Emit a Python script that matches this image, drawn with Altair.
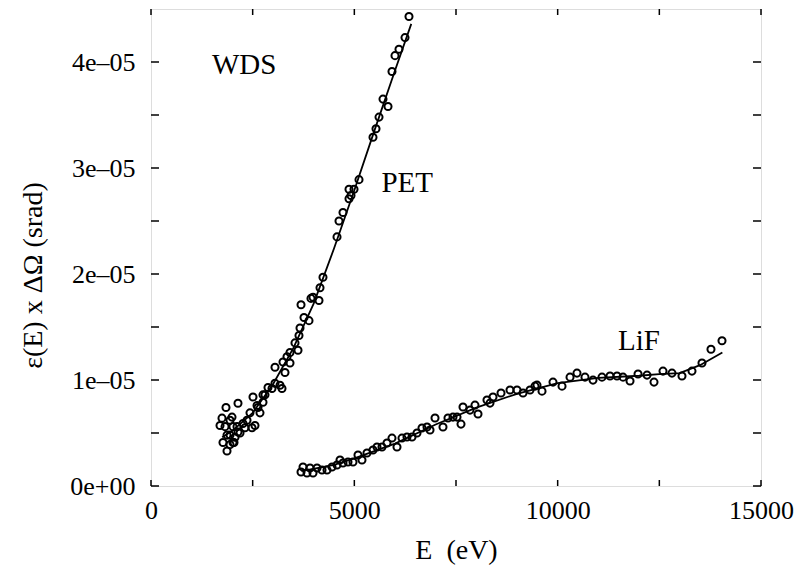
import altair as alt
import pandas as pd

# ---------------- data ----------------
pet_e = [6344, 6246, 6098, 6000, 5926, 5705, 5828, 5607, 5533, 5459, 5115, 4992, 4869, 4918,
         4869, 4721, 4623, 4574, 4229, 4156, 4131, 3984, 3934, 3689, 3762, 3885, 3664, 3639,
         3541, 3615, 3418, 3344, 3246, 3049, 3418, 3295, 3172, 3221, 3049, 2975, 2877, 2803,
         2754, 2508, 2631, 2434, 2361, 2557, 2139, 1844, 1746, 1697, 1943, 2115, 2189, 2066,
         1869, 1770, 1943, 2041, 1869, 2311, 2754, 2607, 2680, 2262, 2484, 1992, 1820, 2016,
         2139, 1943, 2016]
pet_y = [4.43, 4.23, 4.12, 4.06, 3.91, 3.65, 3.58, 3.48, 3.37, 3.29, 2.89, 2.80, 2.80, 2.74,
         2.71, 2.58, 2.50, 2.35, 1.97, 1.87, 1.75, 1.78, 1.77, 1.71, 1.59, 1.56, 1.49, 1.42,
         1.35, 1.28, 1.26, 1.22, 1.17, 1.12, 1.16, 1.07, 0.95, 0.92, 0.97, 0.92, 0.93, 0.86,
         0.79, 0.84, 0.74, 0.69, 0.62, 0.57, 0.78, 0.74, 0.64, 0.57, 0.62, 0.56, 0.50, 0.46,
         0.48, 0.41, 0.39, 0.41, 0.33, 0.55, 0.86, 0.76, 0.69, 0.59, 0.55, 0.65, 0.56, 0.56,
         0.51, 0.48, 0.41]

pet_fit_e = [1750, 2000, 2500, 3000, 3500, 4000, 4500, 5000, 5500, 6000, 6400]
pet_fit_y = [0.46, 0.52, 0.69, 0.96, 1.30, 1.72, 2.24, 2.79, 3.36, 3.92, 4.36]

lif_e = [3689, 3738, 3836, 3910, 3984, 4082, 4205, 4328, 4451, 4574, 4648, 4721, 4844, 4967,
         5090, 5188, 5311, 5459, 5557, 5680, 5803, 5926, 6049, 6172, 6295, 6418, 6541, 6664,
         6787, 6861, 6984, 7180, 7303, 7426, 7525, 7623, 7672, 7844, 7967, 8041, 8262, 8336,
         8410, 8607, 8828, 9000, 9148, 9320, 9492, 9443, 9615, 9885, 10107, 10304, 10475,
         10672, 10869, 11090, 11287, 11459, 11607, 11779, 11976, 12197, 12369, 12590, 12811,
         13057, 13303, 13549, 13770, 14041]
lif_y = [0.132, 0.179, 0.123, 0.170, 0.123, 0.170, 0.151, 0.151, 0.179, 0.198, 0.245, 0.217,
         0.226, 0.226, 0.292, 0.245, 0.311, 0.339, 0.368, 0.368, 0.405, 0.452, 0.368, 0.452,
         0.462, 0.462, 0.500, 0.547, 0.556, 0.528, 0.641, 0.556, 0.641, 0.650, 0.650, 0.584,
         0.745, 0.716, 0.763, 0.679, 0.811, 0.782, 0.839, 0.877, 0.905, 0.905, 0.877, 0.905,
         0.952, 0.942, 0.895, 0.980, 0.942, 1.027, 1.065, 1.027, 0.999, 1.027, 1.037, 1.037,
         1.027, 0.990, 1.056, 1.046, 0.980, 1.084, 1.065, 1.037, 1.084, 1.160, 1.290, 1.370]

lif_fit_e = [3700, 4500, 5000, 6000, 7000, 8000, 9000, 10000, 11000, 12000, 12500, 13000,
             13500, 14050]
lif_fit_y = [0.14, 0.20, 0.26, 0.40, 0.58, 0.74, 0.87, 0.97, 1.02, 1.04, 1.056, 1.065,
             1.14, 1.26]

scale_y = 1e-5

x_tick_values = [0, 2500, 5000, 7500, 10000, 12500, 15000]
y_tick_values = [0, 0.5, 1.0, 1.5, 2.0, 2.5, 3.0, 3.5, 4.0]
x_label_values = [0, 5000, 10000, 15000]
y_label_values = [0, 1, 2, 3, 4]

note_text = ["WDS", "PET", "LiF"]
note_e = [2290, 6300, 12000]
note_y = [3.97, 2.86, 1.37]

# ---------------- tables ----------------
pet = pd.DataFrame({"E": pet_e, "V": [v * scale_y for v in pet_y]})
lif = pd.DataFrame({"E": lif_e, "V": [v * scale_y for v in lif_y]})
pts = pd.concat([pet.assign(s="PET"), lif.assign(s="LiF")])
pet_fit = pd.DataFrame({"E": pet_fit_e, "V": [v * scale_y for v in pet_fit_y]}).assign(s="PET")
lif_fit = pd.DataFrame({"E": lif_fit_e, "V": [v * scale_y for v in lif_fit_y]}).assign(s="LiF")
fits = pd.concat([pet_fit, lif_fit])
notes = pd.DataFrame({"t": note_text, "E": note_e, "V": [v * scale_y for v in note_y]})
xt = pd.DataFrame({"E": x_tick_values})
yt = pd.DataFrame({"V": [v * scale_y for v in y_tick_values]})

W, H = 610, 477
FONT = "Liberation Serif"

xscale = alt.Scale(domain=[0, 15000], nice=False, zero=False)
yscale = alt.Scale(domain=[0, 4.5e-5], nice=False, zero=False)

xaxis = alt.Axis(values=x_label_values, format="d", title="E\u00a0 (eV)", ticks=False,
                 domain=False, grid=False,
                 labelFont=FONT, labelFontSize=26, labelColor="black", labelPadding=11,
                 labelFlush=False, labelOverlap=False,
                 titleFont=FONT, titleFontSize=28, titleFontWeight="normal", titleColor="black",
                 titleY=72, titleBaseline="alphabetic")
yaxis = alt.Axis(values=[v * scale_y for v in y_label_values], title="ε(E) x ΔΩ (srad)",
                 ticks=False, domain=False, grid=False,
                 labelExpr="datum.value == 0 ? '0e+00' : format(datum.value * 100000, '.0f') + 'e–05'",
                 labelFont=FONT, labelFontSize=26, labelColor="black", labelPadding=16,
                 labelFlush=False, labelOverlap=False,
                 titleFont=FONT, titleFontSize=28, titleFontWeight="normal", titleColor="black",
                 titleAngle=270, titleX=-110, titleY=266, titleBaseline="alphabetic",
                 titleAlign="center")

X = alt.X("E:Q", scale=xscale, axis=xaxis)
Y = alt.Y("V:Q", scale=yscale, axis=yaxis)

points = alt.Chart(pts).mark_point(shape="circle", filled=False, size=50, stroke="black",
                                   strokeWidth=2, opacity=1).encode(x=X, y=Y)
lines = alt.Chart(fits).mark_line(color="black", strokeWidth=1.8).encode(
    x=X, y=Y, detail="s:N")
texts = alt.Chart(notes).mark_text(font=FONT, fontSize=29, color="black").encode(
    x=X, y=Y, text="t:N")

xt_bottom = alt.Chart(xt).mark_rule(color="black", strokeWidth=1.5).encode(
    x=X, y=alt.value(H), y2=alt.value(H - 6))
xt_top = alt.Chart(xt).mark_rule(color="black", strokeWidth=1.5).encode(
    x=X, y=alt.value(0), y2=alt.value(6))
yt_left = alt.Chart(yt).mark_rule(color="black", strokeWidth=1.5).encode(
    y=Y, x=alt.value(0), x2=alt.value(8))
yt_right = alt.Chart(yt).mark_rule(color="black", strokeWidth=1.5).encode(
    y=Y, x=alt.value(W), x2=alt.value(W - 8))

chart = alt.layer(xt_bottom, xt_top, yt_left, yt_right, lines, points, texts).properties(
    width=W, height=H,
    autosize=alt.AutoSizeParams(type="none"),
    padding={"left": 151, "top": 9, "right": 36, "bottom": 79},
).configure_view(stroke="black", strokeWidth=2).configure(background="white")

chart.save("out.html", embed_options={"renderer": "svg", "actions": False})
